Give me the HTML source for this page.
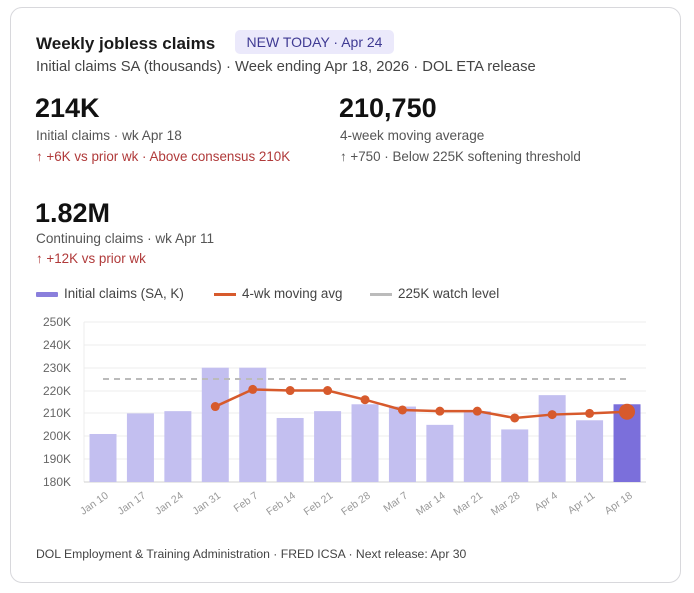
<!DOCTYPE html>
<html><head><meta charset="utf-8"><style>
body{margin:0;width:694px;height:593px;background:#fff;font-family:"Liberation Sans",sans-serif;position:relative;overflow:hidden}
.card{position:absolute;left:10px;top:7px;width:671px;height:576px;border:1px solid #d8d8dc;border-radius:12px;box-sizing:border-box}
.t{position:absolute;white-space:nowrap}
</style></head><body>
<div class="card"></div>
<div class="t" style="left:36px;top:34px;font-size:17px;font-weight:bold;color:#1a1a1a">Weekly jobless claims</div>
<div class="t" style="left:235px;top:30px;width:159px;height:24px;background:#ebe9fb;border-radius:5px;color:#3f3a93;font-size:14px;line-height:25px;text-align:center">NEW TODAY · Apr 24</div>
<div class="t" style="left:36px;top:59px;font-size:14.8px;color:#444">Initial claims SA (thousands) · Week ending Apr 18, 2026 · DOL ETA release</div>
<div class="t" style="left:35px;top:93px;font-size:27px;font-weight:bold;color:#111">214K</div>
<div class="t" style="left:36px;top:128px;font-size:13.6px;color:#555">Initial claims · wk Apr 18</div>
<div class="t" style="left:36px;top:149px;font-size:13.4px;color:#b03a3a">↑ +6K vs prior wk · Above consensus 210K</div>
<div class="t" style="left:339px;top:93px;font-size:27px;font-weight:bold;color:#111">210,750</div>
<div class="t" style="left:340px;top:128px;font-size:13.6px;color:#555">4-week moving average</div>
<div class="t" style="left:340px;top:149px;font-size:13.4px;color:#555">↑ +750 · Below 225K softening threshold</div>
<div class="t" style="left:35px;top:198px;font-size:27px;font-weight:bold;color:#111">1.82M</div>
<div class="t" style="left:36px;top:231px;font-size:13.6px;color:#555">Continuing claims · wk Apr 11</div>
<div class="t" style="left:36px;top:251px;font-size:13.4px;color:#b03a3a">↑ +12K vs prior wk</div>
<div class="t" style="left:36px;top:286px;font-size:13.4px;color:#444"><span style="display:inline-block;width:22px;height:5px;background:#8a7fdc;vertical-align:middle;margin-right:6px;border-radius:1px"></span>Initial claims (SA, K)</div>
<div class="t" style="left:214px;top:286px;font-size:13.4px;color:#444"><span style="display:inline-block;width:22px;height:3px;background:#d75a2c;vertical-align:middle;margin-right:6px"></span>4-wk moving avg</div>
<div class="t" style="left:370px;top:286px;font-size:13.4px;color:#444"><span style="display:inline-block;width:22px;height:3px;background:#bbb;vertical-align:middle;margin-right:6px"></span>225K watch level</div>
<div class="t" style="left:36px;top:547px;font-size:12.2px;color:#444">DOL Employment &amp; Training Administration · FRED ICSA · Next release: Apr 30</div>
<svg style="position:absolute;left:0;top:0" width="694" height="593" font-family="Liberation Sans,sans-serif">
<g stroke="#ececec" stroke-width="1">
<line x1="84" x2="646" y1="322" y2="322"/><line x1="84" x2="646" y1="345" y2="345"/><line x1="84" x2="646" y1="368" y2="368"/><line x1="84" x2="646" y1="391" y2="391"/><line x1="84" x2="646" y1="413" y2="413"/><line x1="84" x2="646" y1="436" y2="436"/><line x1="84" x2="646" y1="459" y2="459"/>
<line x1="84" x2="84" y1="322" y2="482"/>
</g>
<line x1="84" x2="646" y1="482" y2="482" stroke="#d0d0d0"/>
<g font-size="12" fill="#666" text-anchor="end">
<text x="71" y="326">250K</text><text x="71" y="349">240K</text><text x="71" y="372">230K</text><text x="71" y="395">220K</text><text x="71" y="417">210K</text><text x="71" y="440">200K</text><text x="71" y="463">190K</text><text x="71" y="486">180K</text>
</g>
<g fill="#c3bff0" id="bars"></g>
<line x1="103" x2="627" y1="379" y2="379" stroke="#bbb" stroke-width="2" stroke-dasharray="6,5"/>
<g id="ma"></g>
<g id="xl" font-size="10.5" fill="#999" text-anchor="end"></g>
</svg>
<script>
var v=[201,210,211,230,230,208,211,214,213,205,211,203,218,207,214];
var ma=[null,null,null,213,220.5,220,220,216,211.5,211,211,208,209.5,210,210.75];
var lab=["Jan 10","Jan 17","Jan 24","Jan 31","Feb 7","Feb 14","Feb 21","Feb 28","Mar 7","Mar 14","Mar 21","Mar 28","Apr 4","Apr 11","Apr 18"];
function Y(a){return 482-(a-180)*2.286}
function X(i){return 103+i*37.43}
var ns="http://www.w3.org/2000/svg",b=document.getElementById("bars"),m=document.getElementById("ma"),xl=document.getElementById("xl");
function el(t,a,p){var e=document.createElementNS(ns,t);for(var k in a)e.setAttribute(k,a[k]);p.appendChild(e);return e}
var pts=[];
v.forEach(function(a,i){el("rect",{x:X(i)-13.5,y:Y(a),width:27,height:482-Y(a),fill:i==14?"#7b6fdb":"#c3bff0"},b);
var t=el("text",{x:X(i)+6,y:497,transform:"rotate(-35 "+(X(i)+6)+" 497)"},xl);t.textContent=lab[i];
if(ma[i]!=null)pts.push(X(i)+","+Y(ma[i]));});
el("polyline",{points:pts.join(" "),fill:"none",stroke:"#d75a2c","stroke-width":2.5},m);
ma.forEach(function(a,i){if(a!=null)el("circle",{cx:X(i),cy:Y(a),r:i==14?8:4.5,fill:"#d75a2c"},m)});
</script>
</body></html>
